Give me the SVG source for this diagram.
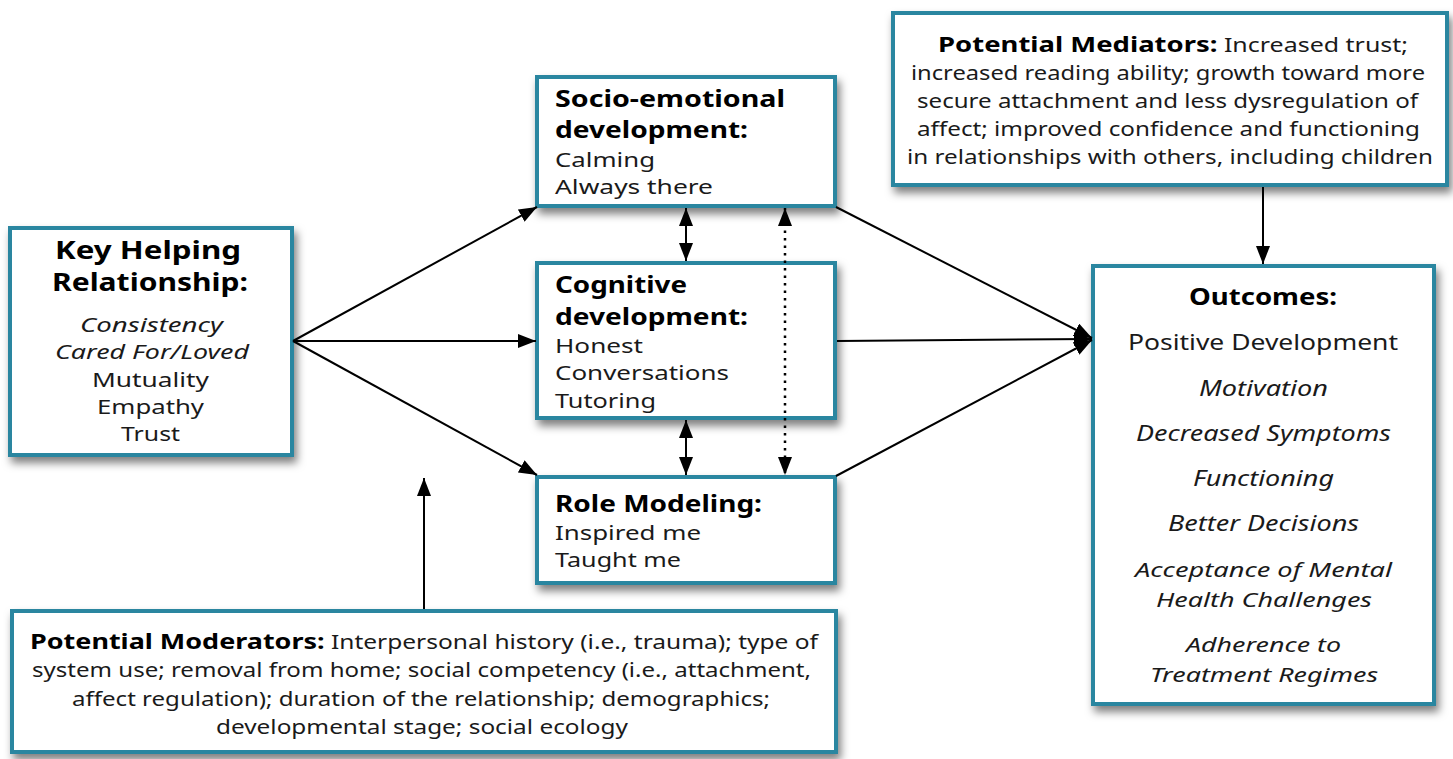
<svg xmlns="http://www.w3.org/2000/svg" width="1453" height="759" viewBox="0 0 1453 759">
<defs>
<filter id="sh" x="-10%" y="-10%" width="125%" height="130%">
<feDropShadow dx="3" dy="6" stdDeviation="4" flood-color="#000" flood-opacity="0.5"/>
</filter>
<marker id="ah" viewBox="0 0 18 14" refX="18" refY="7" markerWidth="18" markerHeight="14" markerUnits="userSpaceOnUse" orient="auto-start-reverse">
<path d="M0,0 L18,7 L0,14 z" fill="#000"/>
</marker>
</defs>
<style>
.box{fill:#fff;stroke:#2a86a0;stroke-width:4;filter:url(#sh)}
text{font-family:"Noto Sans","Open Sans","DejaVu Sans",sans-serif;fill:#1a1a1a;font-size:21px}
.s{font-size:20px}
.t{font-weight:bold;fill:#000;font-size:23px}
.k{font-weight:bold;fill:#000;font-size:25px}
.i{font-style:italic}
.ln{stroke:#000;stroke-width:2;fill:none}
.dot{stroke:#000;stroke-width:2.5;fill:none;stroke-dasharray:2.5,5}
</style>
<rect width="1453" height="759" fill="#fff"/>

<g id="key">
<rect class="box" x="10" y="228" width="282" height="227"/>
<text class="k" x="55" y="259" textLength="186" lengthAdjust="spacingAndGlyphs">Key Helping</text>
<text class="k" x="52" y="291" textLength="196" lengthAdjust="spacingAndGlyphs">Relationship:</text>
<text class="i s" x="80" y="332" textLength="143" lengthAdjust="spacingAndGlyphs">Consistency</text>
<text class="i s" x="55" y="359" textLength="194" lengthAdjust="spacingAndGlyphs">Cared For/Loved</text>
<text class="s" x="92" y="387" textLength="117" lengthAdjust="spacingAndGlyphs">Mutuality</text>
<text class="s" x="97" y="414" textLength="107" lengthAdjust="spacingAndGlyphs">Empathy</text>
<text class="s" x="121" y="441" textLength="59" lengthAdjust="spacingAndGlyphs">Trust</text>
</g>

<g id="socio">
<rect class="box" x="537" y="77" width="298" height="129"/>
<text class="t" x="555" y="107" textLength="230" lengthAdjust="spacingAndGlyphs">Socio-emotional</text>
<text class="t" x="555" y="138" textLength="193" lengthAdjust="spacingAndGlyphs">development:</text>
<text class="s" x="555" y="167" textLength="100" lengthAdjust="spacingAndGlyphs">Calming</text>
<text class="s" x="555" y="194" textLength="158" lengthAdjust="spacingAndGlyphs">Always there</text>
</g>

<g id="cognitive">
<rect class="box" x="537" y="263" width="298" height="155"/>
<text class="t" x="555" y="293" textLength="132" lengthAdjust="spacingAndGlyphs">Cognitive</text>
<text class="t" x="555" y="325" textLength="193" lengthAdjust="spacingAndGlyphs">development:</text>
<text class="s" x="555" y="353" textLength="88" lengthAdjust="spacingAndGlyphs">Honest</text>
<text class="s" x="555" y="380" textLength="174" lengthAdjust="spacingAndGlyphs">Conversations</text>
<text class="s" x="555" y="408" textLength="101" lengthAdjust="spacingAndGlyphs">Tutoring</text>
</g>

<g id="role">
<rect class="box" x="537" y="477" width="298" height="106"/>
<text class="t" x="555" y="512" textLength="207" lengthAdjust="spacingAndGlyphs">Role Modeling:</text>
<text class="s" x="555" y="540" textLength="146" lengthAdjust="spacingAndGlyphs">Inspired me</text>
<text class="s" x="555" y="567" textLength="126" lengthAdjust="spacingAndGlyphs">Taught me</text>
</g>

<g id="mediators">
<rect class="box" x="893" y="13" width="554" height="172"/>
<text class="s" x="938" y="52" textLength="470" lengthAdjust="spacingAndGlyphs"><tspan class="t" style="font-size:22px">Potential Mediators:</tspan> Increased trust;</text>
<text class="s" x="911" y="80" textLength="514" lengthAdjust="spacingAndGlyphs">increased reading ability; growth toward more</text>
<text class="s" x="917" y="108" textLength="501" lengthAdjust="spacingAndGlyphs">secure attachment and less dysregulation of</text>
<text class="s" x="917" y="136" textLength="503" lengthAdjust="spacingAndGlyphs">affect; improved confidence and functioning</text>
<text class="s" x="907" y="164" textLength="526" lengthAdjust="spacingAndGlyphs">in relationships with others, including children</text>
</g>

<g id="outcomes">
<rect class="box" x="1093" y="266" width="341" height="438"/>
<text class="t" x="1189" y="305" textLength="148" lengthAdjust="spacingAndGlyphs">Outcomes:</text>
<text x="1128" y="350" textLength="270" lengthAdjust="spacingAndGlyphs">Positive Development</text>
<text class="i" x="1199" y="396" textLength="129" lengthAdjust="spacingAndGlyphs">Motivation</text>
<text class="i" x="1136" y="441" textLength="255" lengthAdjust="spacingAndGlyphs">Decreased Symptoms</text>
<text class="i" x="1193" y="486" textLength="141" lengthAdjust="spacingAndGlyphs">Functioning</text>
<text class="i" x="1168" y="531" textLength="191" lengthAdjust="spacingAndGlyphs">Better Decisions</text>
<text class="i s" x="1135" y="577" textLength="257" lengthAdjust="spacingAndGlyphs">Acceptance of Mental</text>
<text class="i s" x="1156" y="607" textLength="216" lengthAdjust="spacingAndGlyphs">Health Challenges</text>
<text class="i s" x="1186" y="652" textLength="155" lengthAdjust="spacingAndGlyphs">Adherence to</text>
<text class="i s" x="1150" y="682" textLength="228" lengthAdjust="spacingAndGlyphs">Treatment Regimes</text>
</g>

<g id="moderators">
<rect class="box" x="12" y="611" width="824" height="141"/>
<text class="s" x="30" y="649" textLength="788" lengthAdjust="spacingAndGlyphs"><tspan class="t" style="font-size:22px">Potential Moderators:</tspan> Interpersonal history (i.e., trauma); type of</text>
<text class="s" x="32" y="677" textLength="779" lengthAdjust="spacingAndGlyphs">system use; removal from home; social competency (i.e., attachment,</text>
<text class="s" x="72" y="706" textLength="698" lengthAdjust="spacingAndGlyphs">affect regulation); duration of the relationship; demographics;</text>
<text class="s" x="216" y="734" textLength="412" lengthAdjust="spacingAndGlyphs">developmental stage; social ecology</text>
</g>

<g id="connectors">
<line class="ln" x1="293" y1="341" x2="537" y2="207" marker-end="url(#ah)"/>
<line class="ln" x1="293" y1="341" x2="536" y2="341" marker-end="url(#ah)"/>
<line class="ln" x1="293" y1="341" x2="537" y2="475" marker-end="url(#ah)"/>
<line class="ln" x1="836" y1="207" x2="1092" y2="338" marker-end="url(#ah)"/>
<line class="ln" x1="837" y1="341" x2="1092" y2="339" marker-end="url(#ah)"/>
<line class="ln" x1="836" y1="476" x2="1092" y2="340" marker-end="url(#ah)"/>
<line class="ln" x1="686" y1="208" x2="686" y2="261" marker-start="url(#ah)" marker-end="url(#ah)"/>
<line class="ln" x1="686" y1="420" x2="686" y2="475" marker-start="url(#ah)" marker-end="url(#ah)"/>
<line class="dot" x1="785" y1="208" x2="785" y2="475" marker-start="url(#ah)" marker-end="url(#ah)"/>
<line class="ln" x1="424" y1="609" x2="424" y2="478" marker-end="url(#ah)"/>
<line class="ln" x1="1263" y1="187" x2="1263" y2="264" marker-end="url(#ah)"/>
</g>
</svg>
